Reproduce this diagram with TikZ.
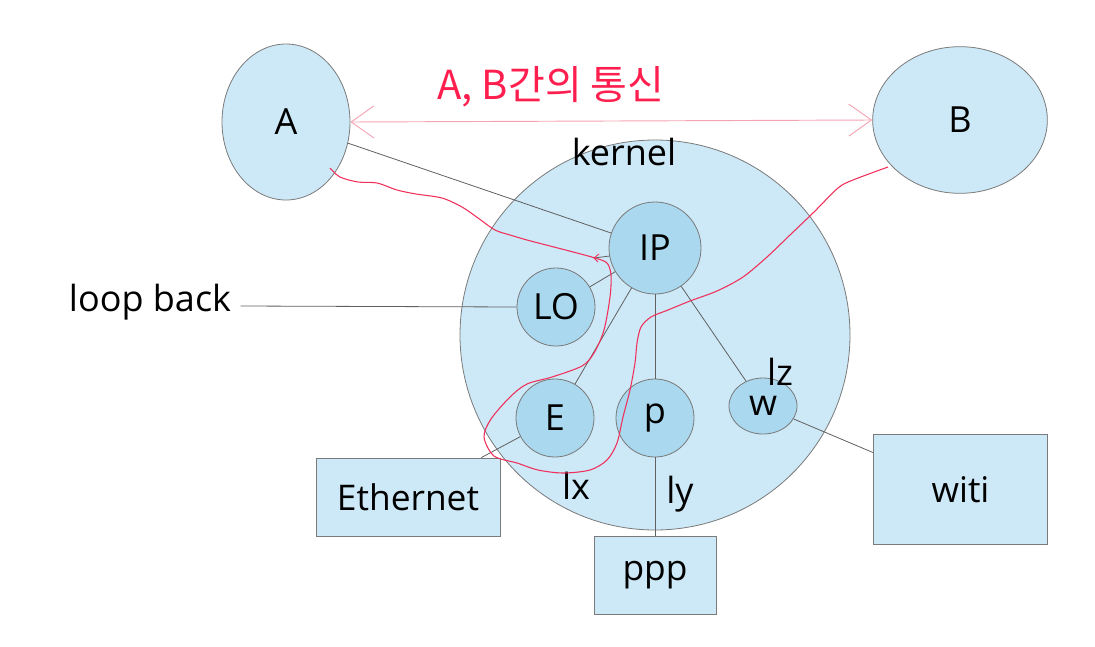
\documentclass[tikz,border=0pt]{standalone}
\usepackage{fontspec}
\setmainfont{Open Sans}
\newfontfamily\kr{Noto Sans CJK KR}
\usetikzlibrary{shapes.geometric,arrows.meta}
\definecolor{fillA}{HTML}{CDE8F6}
\definecolor{fillB}{HTML}{A9D8EF}
\definecolor{edge}{HTML}{7A7A7A}
\definecolor{wire}{HTML}{606060}
\definecolor{pinkline}{HTML}{F4A3B3}
\definecolor{redtxt}{HTML}{FF1F4F}
\definecolor{redpath}{HTML}{F0305A}
\begin{document}
\begin{tikzpicture}[x=0.75pt,y=-0.75pt,
  lab/.style={font=\fontsize{27}{31}\selectfont, text=black, inner sep=1pt},
  big/.style={ellipse, draw=edge, line width=0.6pt, fill=fillA, font=\fontsize{27}{31}\selectfont, inner sep=0pt},
  sub/.style={circle, draw=edge, line width=0.6pt, fill=fillB, font=\fontsize{27}{31}\selectfont, inner sep=0pt},
  box/.style={rectangle, draw=edge, line width=0.6pt, fill=fillA, font=\fontsize{26.5}{31}\selectfont, inner sep=0pt},
  wireln/.style={draw=wire, line width=0.6pt}]
\useasboundingbox (0,0) rectangle (1095,646);
% kernel circle
\node[circle, draw=edge, line width=0.6pt, fill=fillA, minimum size=292.5pt, inner sep=0pt] (K) at (655,335) {};
% outer ellipses
\node[big, minimum width=96pt, minimum height=117pt] (A) at (286,122) {A};
\node[big, minimum width=131pt, minimum height=110pt] (B) at (960,120) {B};
% inner nodes
\node[sub, minimum size=69pt] (IP) at (655,248) {IP};
\node[sub, minimum size=58.5pt] (LO) at (556,307) {LO};
\node[sub, minimum size=58.5pt] (E) at (555,418) {E};
\node[sub, minimum size=58.5pt] (P) at (655,418) {p};
\node[sub, ellipse, minimum width=51pt, minimum height=42pt] (W) at (763,406) {w};
% boxes
\node[box, minimum width=138pt, minimum height=58.5pt] (ETH) at (408,497) {Ethernet};
\node[box, minimum width=91.5pt, minimum height=59pt] (PPP) at (655,575.5) {ppp};
\node[box, minimum width=131pt, minimum height=83pt] (WITI) at (960.5,489.5) {witi};
% labels
\node[lab] (kern) at (624,152) {kernel};
\node[lab] (loop) at (150,302) {loop back};
\node[lab] (lx) at (576,486) {lx};
\node[lab] (ly) at (680,494) {ly};
\node[lab] (lz) at (780,372) {lz};
\node[font=\kr\fontsize{30}{34}\selectfont, text=redtxt, inner sep=0pt] (title) at (551,87) {A, B간의 통신};
% connectors
\draw[wireln] (A) -- (IP);
\draw[wireln] (IP) -- (LO);
\draw[wireln] (IP) -- (E);
\draw[wireln] (IP) -- (P);
\draw[wireln] (IP) -- (W);
\draw[wireln] (E) -- (ETH);
\draw[wireln] (P) -- (PPP);
\draw[wireln] (W) -- (WITI);
\draw[wireln] (loop.east) ++(8,4) coordinate (lb) (lb) -- (LO.west);
\coordinate (tk) at (594,258);
\draw[wireln] (IP.190) -- (tk);
% communication arrow
\draw[draw=pinkline, line width=0.7pt, {Straight Barb[length=17pt,width=24pt]}-{Straight Barb[length=17pt,width=24pt]}] (A.east) -- (B.west);
% red path
\draw[redpath, line width=0.8pt] plot[smooth, tension=0.5] coordinates {
 (330,168) (340,177) (358,182) (377,183) (397,190) (416,194) (442,198) (462,207) (478,218) (495,230) (510,235)
 (527,240) (550,246) (577,253) (595,258) (607,263) (611,275) (610,297) (604,330) (594,353) (582,366) (552,377)
 (527,384) (510,397) (491,419) (484,437) (494,456) (517,463) (538,470) (563,473) (590,470) (607,460) (617,443)
 (623,417) (630,390) (635,363) (637,343) (641,327) (651,317) (668,310) (690,301) (717,291) (743,277) (767,257)
 (790,235) (814,212) (838,188) (853,180) (888,167)};
\draw[redpath, line width=0.6pt] (599,254) -- (594,258) -- (598,262);
\end{tikzpicture}
\end{document}
